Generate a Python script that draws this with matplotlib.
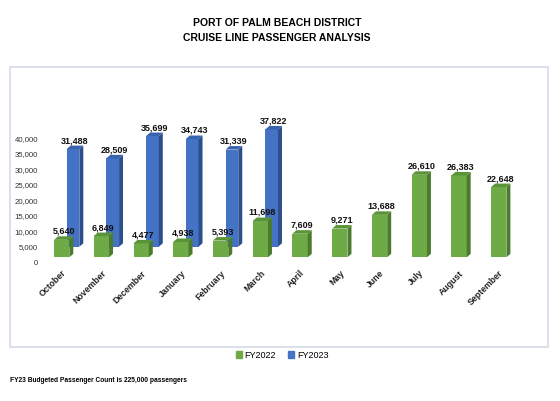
import matplotlib
matplotlib.use("Agg")
import matplotlib.pyplot as plt
import matplotlib.transforms as mtransforms
from matplotlib.patches import Polygon, Rectangle, Patch

plt.rcParams["font.family"] = ["Liberation Sans", "DejaVu Sans"]

months = ["October", "November", "December", "January", "February", "March",
          "April", "May", "June", "July", "August", "September"]
fy2022 = [5640, 6849, 4477, 4938, 5393, 11698, 7609, 9271, 13688, 26610, 26383, 22648]
fy2023 = [31488, 28509, 35699, 34743, 31339, 37822]
y_ticks = [0, 5000, 10000, 15000, 20000, 25000, 30000, 35000, 40000]

GREEN = ("#6EAA45", "#4B7B2E", "#5A9438")   # front, side, top
BLUE = ("#4472C4", "#2C4F8C", "#3A63AD")

W, H = 560, 402
fig = plt.figure(figsize=(W / 100, H / 100), dpi=100)

# chart frame
fig.patches.append(Rectangle((10 / W, 1 - 347.6 / H), 538 / W, (347.6 - 68) / H,
                             transform=fig.transFigure, fill=False,
                             edgecolor="#D3DCE6", linewidth=1.2))

ax = fig.add_axes([45 / W, 1 - 264.5 / H, 480 / W, (264.5 - 80) / H])
ax.set_xlim(-0.42, 11.66)
ax.set_ylim(-2000, 57500)
for s in ax.spines.values():
    s.set_visible(False)

DX, DY = 0.1, 1130


def bar3d(x, h, width, bottom, colors, z):
    front, side, top = colors
    ax.bar(x, h, width=width, bottom=bottom, color=front, zorder=z, linewidth=0)
    x0, x1 = x - width / 2, x + width / 2
    t = bottom + h
    ax.add_patch(Polygon([(x1, bottom), (x1 + DX, bottom + DY), (x1 + DX, t + DY), (x1, t)],
                         closed=True, facecolor=side, edgecolor="none", zorder=z))
    ax.add_patch(Polygon([(x0, t), (x1, t), (x1 + DX, t + DY), (x0 + DX, t + DY)],
                         closed=True, facecolor=top, edgecolor="none", zorder=z))
    ax.text(x + DX / 2, t + DY + 500, f"{h:,}", ha="center", va="bottom",
            fontsize=6.5, fontweight="bold", color="#111111", zorder=z + 0.5)


# back row (FY2023) first, front row (FY2022) on top
for i, v in enumerate(fy2023):
    bar3d(i + 0.284, v, 0.32, 3400, BLUE, 2)
for i, v in enumerate(fy2022):
    bar3d(i, v, 0.385, 0, GREEN, 4)

ax.set_xticks(range(len(months)))
ax.set_xticklabels(months, rotation=45, ha="right", va="top", rotation_mode="anchor",
                   fontsize=6.3, fontweight="bold", color="#222222")
ax.tick_params(axis="x", length=0, pad=3)

ax.set_yticks(y_ticks)
ax.set_yticklabels([f"{t:,}" for t in y_ticks], fontsize=5.6, color="#333333")
ax.tick_params(axis="y", length=0, pad=5)
shift = mtransforms.ScaledTranslation(0, -4 / 100, fig.dpi_scale_trans)
for lbl in ax.get_yticklabels():
    lbl.set_transform(lbl.get_transform() + shift)

fig.text(277 / W, 1 - 23 / H, "PORT OF PALM BEACH DISTRICT", ha="center", va="center",
         fontsize=7.5, fontweight="bold")
fig.text(277 / W, 1 - 38 / H, "CRUISE LINE PASSENGER ANALYSIS", ha="center", va="center",
         fontsize=7.5, fontweight="bold")

handles = [Patch(color=GREEN[0], label="FY2022"), Patch(color=BLUE[0], label="FY2023")]
fig.legend(handles=handles, loc="center", bbox_to_anchor=(282 / W, 1 - 356 / H), ncol=2,
           frameon=False, fontsize=6.5, handlelength=0.7, handleheight=0.7,
           handletextpad=0.3, columnspacing=1.3)

fig.text(10 / W, 1 - 381 / H, "FY23 Budgeted Passenger Count is 225,000 passengers",
         ha="left", va="center", fontsize=4.8, fontweight="bold")

fig.savefig("out.png", dpi=100)
